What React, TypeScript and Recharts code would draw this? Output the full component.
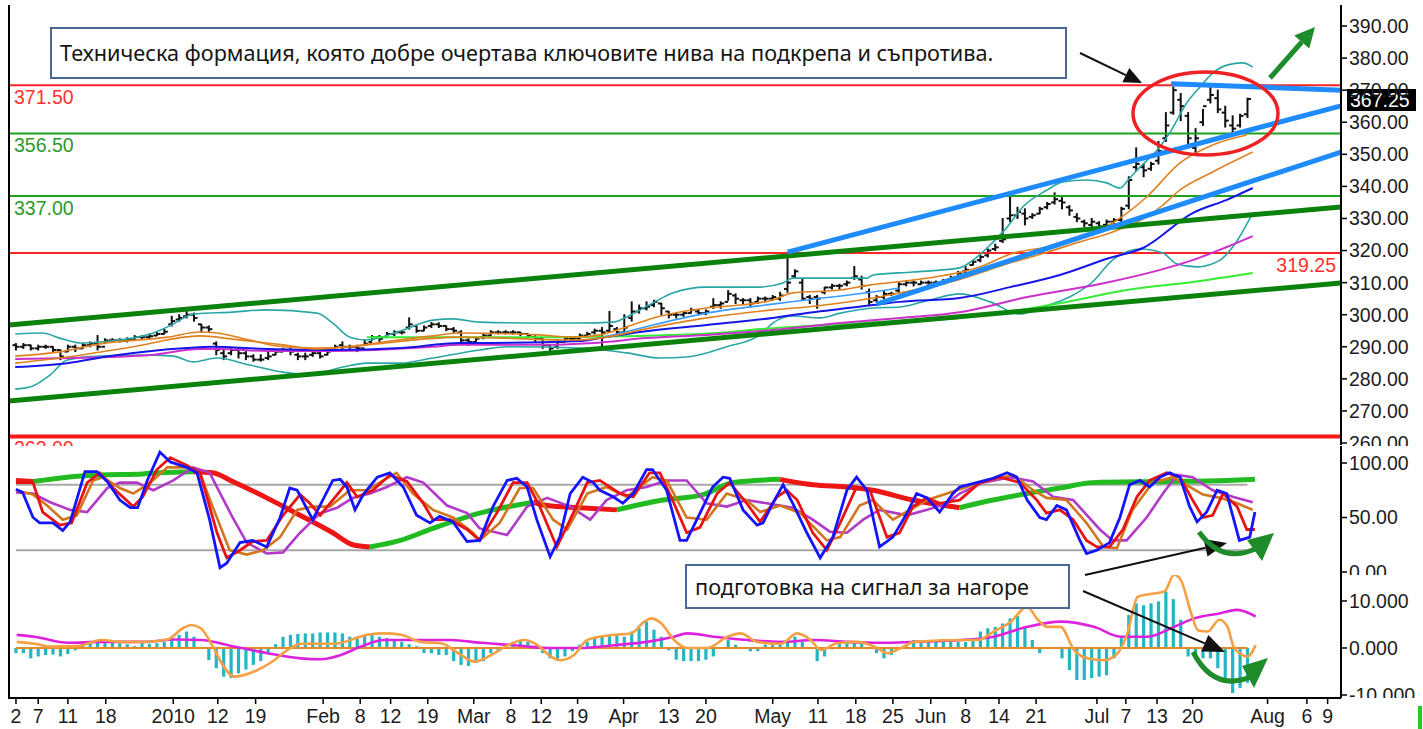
import React from 'react';
import { ComposedChart, Line, Bar, XAxis, YAxis, ReferenceLine, ReferenceDot } from 'recharts';

type Knot = [number, number];

// x is the trading-day number (0 = 2 Dec 2009)
const XMIN = -0.94;
const XMAX = 178.6;
const LAST = 166;

const tickDays = [0, 3, 7, 12.1, 21.2, 27.2, 32.3, 41.4, 46.4, 50.5, 55.5, 61.7, 66.7, 70.8, 75.7, 81.9, 88, 93, 102, 108.1, 113.2, 118.2, 123.3, 128, 132.5, 137.5, 145.7, 149.6, 153.8, 158.6, 168.7, 174, 176.8];
const tickLabels = ['2', '7', '11', '18', '2010', '12', '19', 'Feb', '8', '12', '19', 'Mar', '8', '12', '19', 'Apr', '13', '20', 'May', '11', '18', '25', 'Jun', '8', '14', '21', 'Jul', '7', '13', '20', 'Aug', '6', '9'];

const priceTicks = [260, 270, 280, 290, 300, 310, 320, 330, 340, 350, 360, 370, 380, 390];
const stochTicks = [0, 50, 100];
const macdTicks = [-10, 0, 10];

// daily bars
const opens = [
  290.5, 290, 290.5, 289.5, 290, 290, 289, 288.5, 290, 289.5,
  290.5, 291, 290, 292, 292, 292, 292.2, 293, 293, 293.5,
  294, 297, 298.5, 299.5, 300, 297, 296, 291, 288, 288,
  289, 288, 287, 286, 286.5, 287.5, 288.5, 289, 287.5, 287,
  287.5, 288, 287.5, 289, 290.5, 290, 290, 289.5, 291.5, 293,
  293, 294, 294.5, 296, 296.5, 295, 296.5, 297, 296.5, 295.5,
  294.5, 292, 291.5, 293, 293.5, 294.5, 294.5, 294.5, 294.5, 294,
  293, 292.5, 290.5, 290, 291.5, 292.5, 292.5, 293.5, 294.5, 295,
  295, 295.5, 294.5, 299, 301, 302, 303, 303.5, 301, 300,
  300, 300.5, 301, 300.5, 302.5, 303, 304, 306, 304.5, 304.5,
  304, 305, 305, 305, 308, 312, 310, 305.5, 305.5, 307,
  308.5, 309, 309.5, 311.5, 311, 307, 304.5, 305.5, 306.5, 307.5,
  309.5, 310, 309.5, 310, 310, 310, 311, 311.5, 313.5, 315.5,
  317, 318.5, 320.5, 323, 330, 331, 331.5, 330.5, 331.5, 333.5,
  335, 335.5, 333.5, 330.5, 329, 328, 328.5, 328, 329, 329.5,
  334, 346, 346, 345.5, 348, 355, 363, 367, 362, 352,
  360, 367, 367.5, 363, 359, 359, 362.5,
];
const highs = [
  291, 291, 290.5, 290.5, 290.5, 290, 289, 290.5, 290.5, 291,
  291.5, 293.5, 292.5, 292.5, 292.5, 292.8, 293.5, 293.5, 294, 294.5,
  295.5, 299.5, 300, 301, 300.5, 297, 296.5, 291.5, 289, 289.5,
  289.5, 288.5, 287.5, 287.5, 288.5, 289, 289.5, 289.5, 288, 288,
  288.5, 288.5, 289.5, 290.5, 291.5, 290.5, 290.5, 292, 293.5, 293.5,
  294.5, 295, 295, 299, 296.5, 296.5, 297.5, 297.5, 296.5, 296,
  295, 292.5, 293, 294, 295, 295, 295, 295, 294.5, 294,
  293.5, 292.5, 290.5, 292, 293, 293, 294, 294.5, 295.5, 296,
  301, 296, 300, 304, 303, 304, 304.5, 303.5, 301, 300.5,
  301, 302, 301.5, 301.5, 305, 304, 307.5, 306.5, 305, 305,
  305.5, 305.5, 306, 307, 318, 314, 311, 306, 306, 308.5,
  309.5, 309.5, 310.5, 315, 312, 308, 306, 307.5, 307, 310,
  310.5, 310.5, 310.5, 310.5, 310.5, 311, 312, 313.5, 315, 317,
  318.5, 320.5, 322, 330, 337, 333.5, 333, 331.5, 333.5, 335,
  338, 336.5, 334, 331.5, 329.5, 330, 329, 329.5, 330, 333.5,
  343, 352, 347, 347.5, 354, 363, 371, 369, 363, 358,
  364, 371, 370, 365, 362, 362.5, 367.5,
];
const lows = [
  289, 289.5, 289, 289, 289.5, 288.5, 286, 288.5, 288.5, 289.5,
  290, 289, 291, 291.5, 291.5, 291.5, 292, 292.5, 292.5, 293.5,
  294, 296.5, 298, 299, 298, 294.5, 294.5, 287.5, 286, 287.5,
  286.5, 286, 285.5, 285.5, 286, 287.5, 288.5, 287.5, 286, 286,
  287, 286.5, 287.5, 289, 289, 289.5, 288.5, 290.5, 292, 291.5,
  293, 293.5, 294, 295.5, 294.5, 295, 296, 296, 295, 294.5,
  291, 290.5, 291.5, 292.5, 293.5, 294, 294, 294, 293.5, 293,
  291.5, 289.5, 288.5, 289.5, 291.5, 292, 292.5, 293, 294, 290,
  294.5, 293.5, 294, 298, 300.5, 301.5, 302.5, 300, 299, 299,
  299.5, 300.5, 300, 300, 302, 302, 304.5, 303.5, 303.5, 302.5,
  303.5, 304, 304.5, 304.5, 307, 311.5, 304.5, 303.5, 302, 306.5,
  308, 308, 309, 311, 308, 303, 304, 305, 306, 307,
  309, 309, 309.5, 309.5, 309.5, 309.5, 310.5, 311.5, 313, 315.5,
  316.5, 318, 320, 322.5, 329, 330, 328, 330, 331.5, 333,
  334.5, 333, 331, 329, 327.5, 327.5, 326.5, 327.5, 328.5, 328,
  333, 345, 343, 345, 347, 354, 362.5, 360.5, 353, 350.5,
  359, 366, 363, 358.5, 356, 358.5, 361.5,
];
const closes = [
  290, 290.5, 289.5, 290, 290, 289, 287, 290, 289.5, 290.5,
  291, 290, 292, 292, 292, 292.2, 293, 293, 293.3, 294,
  294.7, 298, 299, 300, 299, 296, 295.5, 289, 287, 289,
  288, 287, 286, 286, 287, 288.5, 289, 288.5, 287, 287,
  288, 287, 288.5, 290, 290, 290, 289.5, 291, 293, 292.5,
  294, 294.5, 294.5, 297, 295, 296, 297, 296.5, 295.5, 295,
  292, 291.5, 292.5, 293.5, 294.5, 294.5, 294.5, 294.5, 294, 293.5,
  292.5, 290.5, 289.5, 291.5, 292.5, 292.5, 293.5, 294, 295, 294.5,
  296.5, 294.5, 296, 301, 302, 302.5, 304, 302, 300, 300,
  300.5, 301.5, 300.5, 301, 303, 303.5, 306.5, 305, 304.5, 303.5,
  305, 305, 305.5, 306, 310, 313.5, 305, 305, 305, 308.5,
  309, 309, 310, 312, 309, 304, 305.5, 306.5, 306.5, 309.5,
  310, 310, 310, 310, 310, 310.5, 311.5, 313, 314, 316.5,
  318, 320, 321, 323.5, 331, 332, 330, 331, 333, 334.5,
  336, 335, 332.5, 330, 328.5, 329, 327.5, 329, 329.5, 333,
  342, 347, 345, 347, 351, 359, 370, 365, 355, 355,
  365, 368.5, 364, 360.5, 358, 362, 367.25,
];

// overlays on the price panel: [day, price]
const bbUpper: Knot[] = [[-0.1, 294.0], [3.6, 294.3], [5.9, 292.7], [8.6, 291.2], [11.3, 291.5], [18.5, 294.3], [21.2, 297.1], [23.9, 300.2], [29.2, 300.8], [33.8, 301.5], [40.6, 300.5], [42.7, 297.4], [45.0, 293.0], [47.3, 292.1], [51.8, 294.9], [56.2, 298.3], [58.9, 298.7], [62.5, 297.7], [70.6, 297.4], [76.0, 297.4], [80.5, 297.7], [82.3, 299.3], [85.8, 303.6], [88.5, 306.8], [93.1, 308.6], [99.9, 308.6], [103.4, 309.9], [104.7, 311.4], [114.7, 311.4], [115.5, 312.4], [120.9, 313.3], [127.2, 314.6], [129.0, 317.0], [131.3, 321.7], [133.6, 327.3], [135.7, 333.6], [139.0, 338.9], [141.1, 341.4], [144.3, 342.0], [147.0, 341.1], [148.8, 339.5], [149.9, 342.0], [151.5, 346.0], [153.8, 351.3], [155.5, 356.6], [157.8, 366.0], [159.6, 371.0], [161.3, 375.3], [163.2, 377.8], [165.4, 378.5], [166.7, 377.2]];
const bbLower: Knot[] = [[-0.1, 276.8], [2.3, 277.8], [4.6, 281.2], [6.9, 285.9], [11.3, 287.1], [18.1, 287.4], [21.2, 287.1], [23.9, 285.3], [27.1, 286.5], [31.5, 284.3], [36.0, 282.1], [38.3, 281.5], [40.6, 281.8], [44.1, 283.7], [47.3, 284.9], [51.8, 284.9], [56.2, 286.5], [62.5, 289.0], [66.2, 290.0], [76.0, 289.6], [82.3, 288.1], [86.8, 286.5], [90.4, 286.8], [95.8, 290.0], [100.3, 293.7], [102.0, 297.4], [104.7, 299.6], [108.4, 299.0], [111.1, 300.5], [115.5, 302.1], [119.1, 302.4], [123.2, 304.6], [127.2, 306.5], [131.3, 304.0], [135.3, 300.2], [138.4, 302.4], [142.0, 305.5], [145.1, 310.2], [147.8, 317.0], [151.5, 320.5], [154.6, 319.2], [156.5, 315.8], [159.2, 314.9], [162.3, 317.0], [164.0, 321.1], [166.7, 331.7]];
const maFast: Knot[] = [[-0.1, 287.1], [5.9, 288.4], [11.3, 290.9], [20.4, 293.0], [24.8, 294.6], [27.1, 294.3], [31.5, 292.1], [36.0, 290.0], [40.6, 289.6], [45.0, 290.0], [49.5, 291.5], [56.2, 293.4], [59.8, 294.3], [70.6, 293.7], [75.1, 293.0], [78.7, 293.7], [82.3, 296.2], [86.4, 299.3], [93.1, 302.1], [97.6, 303.0], [102.0, 304.6], [104.7, 306.8], [111.1, 307.7], [115.1, 309.3], [120.9, 310.8], [129.9, 314.9], [134.4, 319.2], [139.0, 321.1], [142.5, 323.3], [147.8, 328.6], [152.4, 336.7], [156.9, 347.3], [161.3, 352.9], [165.9, 356.0]];
const maMid: Knot[] = [[-0.1, 284.9], [6.9, 286.8], [15.8, 290.0], [24.8, 293.4], [29.2, 292.4], [36.0, 290.6], [40.6, 289.3], [47.3, 290.6], [59.8, 293.0], [75.1, 292.1], [79.6, 293.0], [84.1, 295.2], [93.1, 299.0], [102.0, 301.5], [106.6, 302.4], [115.5, 305.2], [119.1, 306.8], [125.5, 309.9], [134.4, 316.4], [139.0, 319.5], [143.4, 322.7], [147.8, 325.8], [152.4, 330.5], [154.6, 334.2], [156.9, 338.9], [161.3, 344.5], [166.7, 350.7]];
const maBlue: Knot[] = [[-0.1, 283.7], [6.9, 284.9], [12.7, 287.1], [23.0, 289.6], [26.5, 290.0], [33.8, 289.3], [42.7, 289.0], [51.8, 289.6], [59.8, 291.2], [64.3, 291.2], [76.0, 291.8], [78.7, 292.7], [84.1, 294.6], [93.1, 296.8], [102.0, 299.0], [106.6, 300.5], [115.5, 303.0], [119.1, 304.0], [127.2, 305.2], [134.0, 308.6], [140.7, 312.4], [147.4, 317.7], [151.9, 320.8], [158.6, 331.7], [163.2, 335.8], [166.7, 339.5]];
const maMagenta: Knot[] = [[-0.1, 286.2], [12.7, 286.8], [18.1, 287.4], [24.8, 289.3], [27.5, 289.3], [33.8, 288.7], [42.7, 288.7], [56.2, 290.0], [59.8, 290.6], [70.6, 290.6], [77.8, 291.2], [85.0, 292.7], [93.1, 293.7], [102.0, 295.2], [111.1, 297.4], [119.1, 299.0], [127.2, 300.8], [136.3, 305.5], [147.4, 310.2], [154.1, 313.9], [158.6, 317.0], [163.2, 321.1], [166.7, 324.5]];
const maLime: Knot[] = [[47.3, 293.0], [59.8, 293.0], [72.9, 293.0], [92.2, 294.0], [102.0, 295.8], [116.4, 297.7], [127.2, 299.0], [140.7, 303.6], [149.7, 307.7], [158.6, 310.2], [166.7, 313.0]];
const maSky: Knot[] = [[78.7, 292.7], [84.1, 295.8], [93.1, 300.5], [102.0, 303.3], [106.6, 304.6], [115.5, 307.1], [119.1, 308.3]];

const greenChannel: Knot[][] = [[[XMIN, 296.8], [XMAX, 333.6]], [[XMIN, 273.1], [XMAX, 309.9]]];
const blueChannel: Knot[][] = [[[104.0, 319.5], [XMAX, 365.1]], [[116.0, 303.3], [XMAX, 350.7]], [[155.7, 372.0], [XMAX, 370.0]]];
const redLevels = [371.5, 319.25];
const greenLevels = [356.5, 337];
const floorLevel = 262;

// stochastic panel: [day, value]
const stochFast: Knot[] = [[0, 76], [0.9, 73], [2.3, 50], [3.2, 45], [5.0, 45], [6.3, 38], [7.3, 46], [9.3, 92], [10.9, 92], [12.3, 83], [14.0, 66], [15.4, 59], [16.4, 59], [17.7, 84], [19.4, 110], [20.8, 101], [22.1, 98], [23.0, 96], [24.4, 91], [26.1, 48], [27.5, 4], [28.4, 8], [30.2, 27], [31.9, 29], [33.8, 23], [35.6, 50], [36.9, 77], [37.9, 75], [40.0, 48], [42.7, 84], [43.7, 85], [44.6, 78], [45.7, 57], [46.8, 71], [48.7, 87], [50.4, 91], [52.2, 78], [54.0, 52], [55.8, 45], [57.1, 51], [58.9, 46], [60.8, 28], [62.5, 29], [64.3, 60], [66.2, 84], [67.5, 86], [68.9, 78], [70.2, 48], [72.0, 14], [73.3, 32], [74.7, 72], [76.4, 87], [77.8, 82], [78.7, 75], [80.5, 69], [81.8, 63], [83.2, 72], [85.0, 94], [85.8, 94], [87.7, 75], [89.5, 29], [90.4, 29], [92.2, 54], [93.9, 78], [95.3, 87], [96.2, 86], [98.0, 57], [99.9, 43], [100.7, 45], [102.0, 63], [103.4, 80], [104.7, 63], [106.6, 36], [108.4, 13], [110.1, 32], [112.0, 75], [113.3, 87], [114.7, 75], [116.4, 23], [118.2, 32], [120.1, 54], [121.4, 72], [122.8, 68], [124.5, 55], [126.3, 72], [127.2, 78], [129.5, 82], [131.7, 86], [133.6, 91], [134.9, 87], [136.3, 66], [138.0, 50], [138.9, 48], [140.3, 61], [141.6, 57], [143.4, 29], [144.3, 17], [145.7, 20], [147.4, 27], [148.8, 50], [150.1, 80], [151.5, 84], [152.8, 78], [154.2, 87], [155.5, 91], [156.9, 87], [158.2, 60], [159.2, 46], [160.5, 55], [161.9, 75], [163.2, 72], [164.9, 29], [166.3, 32], [167.0, 55]];
const stochRed: Knot[] = [[0, 82], [2.3, 82], [3.6, 55], [5.9, 43], [7.5, 45], [9.6, 82], [11.3, 91], [13.1, 77], [15.8, 60], [17.1, 69], [19.0, 94], [20.8, 105], [23.0, 98], [24.8, 91], [27.1, 36], [28.4, 13], [30.2, 20], [31.9, 28], [33.8, 29], [36.0, 52], [38.3, 71], [39.6, 63], [41.0, 52], [43.3, 71], [44.6, 82], [46.0, 69], [48.1, 75], [50.4, 89], [52.7, 83], [54.9, 63], [56.2, 48], [58.5, 48], [60.8, 39], [62.5, 29], [64.8, 54], [67.0, 82], [68.9, 82], [70.6, 60], [72.9, 23], [74.7, 48], [77.0, 82], [78.7, 84], [81.4, 72], [83.2, 69], [85.4, 91], [86.8, 91], [88.5, 66], [90.4, 36], [92.2, 41], [94.5, 72], [96.2, 82], [98.5, 63], [100.3, 46], [102.6, 69], [103.9, 75], [105.3, 66], [107.4, 36], [109.3, 20], [111.1, 45], [113.3, 78], [115.1, 75], [117.4, 32], [119.1, 36], [120.9, 60], [122.8, 68], [124.5, 63], [127.2, 66], [129.9, 82], [132.6, 87], [135.3, 82], [137.6, 66], [138.9, 54], [140.7, 57], [142.5, 48], [144.3, 29], [145.7, 23], [147.4, 23], [149.2, 39], [151.1, 69], [152.8, 84], [155.1, 91], [156.9, 87], [158.6, 66], [160.0, 50], [161.3, 52], [162.7, 72], [164.6, 60], [165.9, 39], [167.0, 39]];
const stochOrange: Knot[] = [[0, 75], [2.3, 71], [4.2, 61], [6.3, 48], [8.2, 52], [10.4, 84], [11.7, 87], [14.0, 77], [15.8, 72], [18.1, 82], [20.4, 96], [23.0, 96], [24.8, 91], [26.5, 60], [28.8, 20], [31.1, 16], [33.3, 20], [35.6, 32], [37.9, 57], [40.0, 60], [42.3, 60], [45.0, 75], [47.3, 75], [49.5, 84], [51.3, 91], [53.5, 72], [56.2, 57], [58.9, 50], [61.6, 36], [62.5, 29], [65.2, 45], [67.9, 77], [69.7, 77], [72.4, 48], [74.3, 39], [77.0, 72], [79.6, 78], [82.3, 69], [85.8, 87], [87.7, 84], [90.4, 50], [93.1, 48], [95.8, 72], [98.5, 66], [100.3, 55], [103.0, 61], [105.7, 54], [109.3, 29], [111.1, 32], [113.7, 61], [115.5, 66], [118.2, 48], [120.5, 57], [122.8, 66], [125.5, 72], [127.2, 76], [130.9, 84], [134.4, 89], [137.1, 75], [138.9, 68], [141.6, 66], [144.3, 45], [146.6, 23], [148.4, 22], [150.5, 57], [153.2, 82], [155.9, 87], [158.2, 78], [160.0, 71], [162.3, 68], [164.6, 63], [166.7, 57]];
const stochPurple: Knot[] = [[0, 73], [2.3, 72], [4.6, 64], [7.3, 57], [9.6, 55], [12.3, 77], [14.0, 82], [16.3, 82], [18.5, 75], [21.2, 84], [23.9, 96], [26.1, 91], [29.2, 50], [31.1, 27], [33.8, 17], [36.0, 18], [38.3, 36], [41.0, 54], [43.3, 59], [45.4, 68], [47.7, 72], [50.0, 78], [52.7, 87], [54.9, 82], [58.1, 61], [60.8, 54], [62.5, 40], [66.2, 34], [68.9, 60], [71.6, 68], [74.7, 60], [77.4, 48], [79.6, 66], [82.3, 75], [85.0, 78], [87.7, 84], [90.4, 84], [93.1, 63], [95.8, 60], [98.5, 66], [101.2, 63], [104.7, 59], [107.4, 48], [109.7, 37], [112.0, 36], [114.2, 48], [116.4, 57], [120.1, 52], [122.8, 57], [125.5, 63], [127.2, 72], [130.3, 82], [134.0, 87], [137.1, 83], [139.8, 69], [142.5, 66], [146.1, 39], [147.8, 29], [149.7, 29], [152.4, 50], [154.6, 72], [156.5, 89], [158.6, 87], [161.3, 75], [164.0, 69], [166.7, 64]];
const stochSlow: Knot[] = [[0, 84], [2.3, 83], [6.9, 87], [11.3, 89], [17.1, 90], [19.4, 91], [23.9, 92], [26.5, 91], [29.2, 83], [33.8, 68], [38.3, 52], [42.7, 36], [45.4, 25], [47.7, 23], [51.8, 29], [56.2, 40], [62.5, 54], [69.7, 64], [71.6, 61], [76.0, 59], [81.0, 57], [87.2, 66], [92.6, 71], [96.6, 82], [103.0, 85], [107.4, 80], [112.0, 78], [115.5, 75], [120.9, 66], [127.2, 59], [131.7, 66], [136.3, 72], [140.7, 77], [145.1, 82], [154.2, 83], [163.2, 84], [167.0, 85]];
const stochBands = [80, 20];

// MACD panel
const macdHist = [
  -1.1, -1.1, -2.2, -1.8, -1.5, -1.4, -1.8, -1.3, -0.5, 0.6,
  1.0, 1.3, 1.7, 1.3, 1.0, 0.8, 0.4, 1.0, 0.9, 1.0,
  1.3, 2.1, 2.8, 3.5, 2.4, 0.2, -2.6, -4.3, -6.1, -6.4,
  -5.4, -4.6, -3.6, -2.8, -1.1, 0.8, 2.4, 2.8, 3.0, 3.1,
  3.1, 3.3, 3.3, 3.3, 3.1, 2.4, 2.4, 2.6, 2.8, 2.4,
  2.1, 1.8, 1.3, 0.8, 0.4, -1.1, -1.1, -1.5, -1.5, -2.8,
  -3.6, -3.8, -3.2, -2.8, -1.1, -0.8, 0.7, 1.3, 1.7, 1.3,
  0.5, -1.1, -2.2, -2.6, -1.8, -0.7, 0.7, 1.3, 2.1, 2.4,
  2.8, 2.8, 2.4, 3.5, 4.2, 5.6, 3.9, 2.4, -0.5, -2.5,
  -2.8, -2.8, -2.8, -2.5, -1.8, 0, 1.7, 0.7, 0, -0.7,
  -0.7, 0.7, 0.9, 0.9, 1.3, 2.4, 1.3, 0.2, -2.8, -1.8,
  -0.3, 0.9, 1.0, 1.3, 0.9, 0.2, -1.1, -2.2, -1.5, -0.2,
  0.7, 1.7, 1.3, 1.3, 1.3, 1.3, 1.3, 1.3, 1.3, 1.7,
  3.5, 4.2, 4.5, 5.2, 6.3, 6.8, 4.5, 1.7, -1.1, 0,
  0, -2.2, -4.7, -6.8, -6.8, -6.4, -6.1, -5.8, -2.2, 2.1,
  7.0, 9.5, 9.1, 9.5, 9.9, 12.0, 10.4, 6.0, -1.8, -2.5,
  -2.2, -2.2, -4.3, -6.8, -9.6, -8.5, -7.4,
];
const macdLine: Knot[] = [[0.1, 1.3], [2.5, 0.9], [4.7, 0.3], [8.3, 0.4], [11.5, 1.7], [14.2, 1.3], [17.3, 1.3], [20.4, 1.8], [22.5, 4.2], [23.6, 4.9], [24.9, 4.2], [26.3, 1.0], [27.6, -2.9], [29.4, -6.1], [32.1, -5.0], [34.8, -2.6], [36.6, -0.4], [38.4, 0.9], [42.9, 0.9], [47.4, 2.8], [49.6, 3.1], [51.9, 2.8], [54.6, 1.3], [57.3, 1.0], [60.0, -1.5], [61.8, -2.9], [64.5, -1.1], [66.3, 0.6], [68.5, 1.7], [70.3, 0.6], [72.1, -1.8], [73.4, -2.6], [75.2, -1.5], [77.0, 1.7], [80.6, 2.8], [82.9, 3.1], [84.7, 5.6], [85.6, 6.3], [87.0, 5.2], [88.7, 1.7], [90.5, 0], [93.2, 0], [95.9, 2.4], [97.7, 3.1], [99.9, 1.3], [103.1, 0.9], [105.3, 3.1], [107.1, 1.7], [108.5, -0.4], [110.7, 1.0], [113.4, 1.3], [115.7, 0.3], [117.5, -1.1], [119.3, 0], [121.1, 1.3], [127.4, 1.7], [129.6, 1.7], [131.8, 3.5], [134.1, 5.6], [136.3, 8.8], [137.6, 6.3], [139.0, 4.5], [140.8, 4.5], [142.6, -0.4], [144.4, -2.2], [146.7, -2.6], [148.5, -1.1], [149.8, 3.1], [151.2, 10.9], [153.4, 11.6], [154.8, 12.0], [156.1, 15.6], [157.0, 14.5], [158.4, 7.4], [159.3, 3.8], [160.6, 3.5], [162.2, 6.0], [163.3, 4.5], [164.2, 0], [166.0, -1.8], [167.1, 0.6]];
const macdSignal: Knot[] = [[0.1, 2.8], [2.5, 2.4], [7.0, 1.1], [11.5, 1.3], [17.3, 1.3], [21.3, 1.8], [24.9, 1.7], [29.4, 0.3], [33.9, -1.1], [38.4, -2.2], [41.1, -2.4], [43.8, -1.5], [46.5, 0.3], [49.6, 1.7], [54.1, 1.7], [58.6, 1.7], [62.7, 1.1], [67.2, 0.6], [71.7, 0], [76.1, 0], [80.6, 0.6], [85.1, 1.3], [88.7, 2.4], [90.5, 3.1], [94.1, 2.4], [98.6, 1.7], [103.1, 1.3], [107.6, 1.7], [112.1, 1.3], [116.6, 1.1], [121.1, 1.3], [127.4, 1.7], [131.8, 2.4], [136.3, 4.5], [140.8, 5.6], [145.3, 4.5], [148.9, 2.4], [152.5, 2.4], [156.1, 4.5], [158.8, 6.3], [162.4, 7.4], [164.6, 8.1], [167.1, 6.7]];

const bars = closes.map((c, i) => ({ x: i, o: opens[i], h: highs[i], l: lows[i], c, range: [lows[i], highs[i]] }));
const histRows = macdHist.map((hist, i) => ({ x: i, hist }));
const pts = (k: Knot[]) => k.map(([x, v]) => ({ x, v }));

const slowSegs = (() => {
  const segs: { up: boolean; pts: Knot[] }[] = [];
  for (let i = 1; i < stochSlow.length; i++) {
    const up = stochSlow[i][1] >= stochSlow[i - 1][1];
    const last = segs[segs.length - 1];
    if (last && last.up === up) last.pts.push(stochSlow[i]);
    else segs.push({ up, pts: [stochSlow[i - 1], stochSlow[i]] });
  }
  return segs;
})();

const FONT = 'Liberation Sans, Arial, sans-serif';
const axisTick = { fontSize: 19.5, fill: '#1c1c1c', fontFamily: FONT };
const W = 1423;

function OhlcBar(props: any) {
  const { x, y, width, height, payload } = props;
  if (!payload) return null;
  const top = Math.min(y, y + height);
  const span = Math.abs(height);
  const toY = (p: number) => top + ((payload.h - p) / (payload.h - payload.l || 1)) * span;
  const cx = x + width / 2;
  return (
    <g stroke="#111" strokeWidth={2}>
      <line x1={cx} x2={cx} y1={top - 0.5} y2={top + span + 0.5} />
      <line x1={cx - 3.5} x2={cx} y1={toY(payload.o)} y2={toY(payload.o)} />
      <line x1={cx} x2={cx + 3.5} y1={toY(payload.c)} y2={toY(payload.c)} />
    </g>
  );
}

function HistBar(props: any) {
  const { x, y, width, height } = props;
  if (height == null || !isFinite(height)) return null;
  const top = Math.min(y, y + height);
  return <rect x={x + width / 2 - 1.6} y={top} width={3.2} height={Math.abs(height)} fill="#22b6c4" />;
}

function ClippedTick(props: any) {
  const { x, y, payload, fmt, clipBottom } = props;
  const id = `clip-${clipBottom}-${payload.value}`;
  return (
    <g>
      <clipPath id={id}>
        <rect x={x - 10} y={-50} width={120} height={clipBottom + 50} />
      </clipPath>
      <text x={x} y={y} dy={7} textAnchor="start" clipPath={`url(#${id})`} fontSize={19.5} fill="#1c1c1c" fontFamily={FONT}>
        {fmt(payload.value)}
      </text>
    </g>
  );
}

function Arrow({ x1, y1, x2, y2, color, width, head, half }: any) {
  const len = Math.hypot(x2 - x1, y2 - y1);
  const ux = (x2 - x1) / len;
  const uy = (y2 - y1) / len;
  const bx = x2 - ux * head;
  const by = y2 - uy * head;
  return (
    <g>
      <line x1={x1} y1={y1} x2={bx} y2={by} stroke={color} strokeWidth={width} />
      <polygon points={`${x2},${y2} ${bx - uy * half},${by + ux * half} ${bx + uy * half},${by - ux * half}`} fill={color} />
    </g>
  );
}

const levelLabel = (value: number, color: string, position: string) => ({
  value: value.toFixed(2),
  position,
  fill: color,
  fontSize: 19.5,
  fontFamily: FONT,
  offset: 5,
});

const noteStyle: React.CSSProperties = {
  position: 'absolute',
  border: '2px solid #4a6894',
  background: '#fff',
  fontFamily: 'Noto Sans, sans-serif',
  fontSize: 21.7,
  color: '#151515',
  paddingLeft: 8,
  boxSizing: 'content-box',
  whiteSpace: 'nowrap',
};

export default function App() {
  const lastClose = closes[LAST];
  return (
    <div style={{ position: 'absolute', left: 0, top: 0, width: W, height: 729, background: '#fff', overflow: 'hidden' }}>
      {/* price panel */}
      <div style={{ position: 'absolute', left: 0, top: 0 }}>
        <ComposedChart width={W} height={446} data={bars} margin={{ top: 5, right: 0, bottom: 1, left: 9 }}>
          <XAxis dataKey="x" type="number" domain={[XMIN, XMAX]} allowDataOverflow hide />
          <YAxis
            orientation="right"
            width={82}
            domain={[259.38, 396.55]}
            allowDataOverflow
            ticks={priceTicks}
            interval={0}
            tickFormatter={(v: number) => v.toFixed(2)}
            axisLine={{ stroke: '#000', strokeWidth: 2 }}
            tickLine={{ stroke: '#000', strokeWidth: 1.5 }}
            tickSize={6}
            tick={axisTick}
          />
          {redLevels.map((v, i) => (
            <ReferenceLine key={`r${v}`} y={v} stroke="#ff2424" strokeWidth={2}
              label={levelLabel(v, '#ff3030', i === 0 ? 'insideTopLeft' : 'insideTopRight') as any} />
          ))}
          {greenLevels.map((v) => (
            <ReferenceLine key={`g${v}`} y={v} stroke="#1fa01f" strokeWidth={2}
              label={levelLabel(v, '#2a9a2a', 'insideTopLeft') as any} />
          ))}
          <ReferenceLine y={floorLevel} stroke="#ff1a1a" strokeWidth={4} label={levelLabel(floorLevel, '#ff3030', 'insideTopLeft') as any} />

          <Line data={pts(bbUpper)} dataKey="v" type="monotone" stroke="#2aa6a6" strokeWidth={1.6} dot={false} isAnimationActive={false} />
          <Line data={pts(bbLower)} dataKey="v" type="monotone" stroke="#2aa6a6" strokeWidth={1.6} dot={false} isAnimationActive={false} />
          <Line data={pts(maLime)} dataKey="v" type="monotone" stroke="#33ee33" strokeWidth={2} dot={false} isAnimationActive={false} />
          <Line data={pts(maMagenta)} dataKey="v" type="monotone" stroke="#cc30cc" strokeWidth={2} dot={false} isAnimationActive={false} />
          <Line data={pts(maBlue)} dataKey="v" type="monotone" stroke="#1616e8" strokeWidth={2} dot={false} isAnimationActive={false} />
          <Line data={pts(maSky)} dataKey="v" type="monotone" stroke="#3a9cff" strokeWidth={1.6} dot={false} isAnimationActive={false} />
          <Line data={pts(maMid)} dataKey="v" type="monotone" stroke="#e0801e" strokeWidth={1.6} dot={false} isAnimationActive={false} />
          <Line data={pts(maFast)} dataKey="v" type="monotone" stroke="#e0801e" strokeWidth={1.6} dot={false} isAnimationActive={false} />

          {greenChannel.map((seg, i) => (
            <ReferenceLine key={`gc${i}`} ifOverflow="visible" segment={seg.map(([x, y]) => ({ x, y }))} stroke="#0b820b" strokeWidth={5} />
          ))}
          {blueChannel.map((seg, i) => (
            <ReferenceLine key={`bc${i}`} ifOverflow="visible" segment={seg.map(([x, y]) => ({ x, y }))} stroke="#1e8cff" strokeWidth={5} />
          ))}

          <Bar dataKey="range" barSize={7} shape={<OhlcBar />} isAnimationActive={false} />

          <ReferenceDot
            x={XMAX}
            y={lastClose}
            r={0}
            ifOverflow="visible"
            shape={(p: any) => (
              <g>
                <rect x={p.cx + 6} y={p.cy - 10} width={69} height={22} fill="#000" />
                <text x={p.cx + 9} y={p.cy + 8} fill="#fff" fontSize={19.5} fontFamily={FONT}>{lastClose.toFixed(2)}</text>
              </g>
            )}
          />
        </ComposedChart>
      </div>

      {/* stochastic panel */}
      <div style={{ position: 'absolute', left: 0, top: 446 }}>
        <ComposedChart width={W} height={129} margin={{ top: 0, right: 0, bottom: 0, left: 9 }}>
          <XAxis dataKey="x" type="number" domain={[XMIN, XMAX]} allowDataOverflow hide />
          <YAxis
            orientation="right"
            width={82}
            domain={[-2.75, 115.6]}
            allowDataOverflow
            ticks={stochTicks}
            interval={0}
            tickFormatter={(v: number) => v.toFixed(2)}
            axisLine={{ stroke: '#000', strokeWidth: 2 }}
            tickLine={{ stroke: '#000', strokeWidth: 1.5 }}
            tickSize={6}
            tick={axisTick}
          />
          {stochBands.map((v) => (
            <ReferenceLine key={`sb${v}`} ifOverflow="visible" segment={[{ x: 0, y: v }, { x: LAST, y: v }]} stroke="#a9a9a9" strokeWidth={2} />
          ))}
          {slowSegs.map((s, i) => (
            <Line key={`slow${i}`} data={pts(s.pts)} dataKey="v" type="monotone" stroke={s.up ? '#22bb22' : '#ee1515'} strokeWidth={5} dot={false} isAnimationActive={false} />
          ))}
          <Line data={pts(stochPurple)} dataKey="v" type="linear" stroke="#b23ac8" strokeWidth={2.6} dot={false} isAnimationActive={false} />
          <Line data={pts(stochOrange)} dataKey="v" type="linear" stroke="#d2761c" strokeWidth={2.6} dot={false} isAnimationActive={false} />
          <Line data={pts(stochRed)} dataKey="v" type="linear" stroke="#e81414" strokeWidth={2.8} dot={false} isAnimationActive={false} />
          <Line data={pts(stochFast)} dataKey="v" type="linear" stroke="#1414ff" strokeWidth={2.8} dot={false} isAnimationActive={false} />
        </ComposedChart>
      </div>

      {/* MACD panel */}
      <div style={{ position: 'absolute', left: 0, top: 575 }}>
        <ComposedChart width={W} height={154} data={histRows} margin={{ top: 0, right: 0, bottom: 0, left: 9 }}>
          <XAxis
            dataKey="x"
            type="number"
            domain={[XMIN, XMAX]}
            allowDataOverflow
            ticks={tickDays}
            interval={0}
            height={31}
            tickFormatter={(v: number) => tickLabels[tickDays.indexOf(v)]}
            axisLine={{ stroke: '#000', strokeWidth: 2 }}
            tickLine={{ stroke: '#000', strokeWidth: 1.5 }}
            tickSize={6}
            tickMargin={5}
            tick={axisTick}
          />
          <YAxis
            orientation="right"
            width={82}
            domain={[-10.64, 15.53]}
            allowDataOverflow
            ticks={macdTicks}
            interval={0}
            axisLine={{ stroke: '#000', strokeWidth: 2 }}
            tickLine={{ stroke: '#000', strokeWidth: 1.5 }}
            tickSize={6}
            tick={<ClippedTick fmt={(v: number) => v.toFixed(3)} clipBottom={123} />}
          />
          <ReferenceLine ifOverflow="visible" segment={[{ x: 0, y: 0 }, { x: LAST, y: 0 }]} stroke="#e58a2a" strokeWidth={2} />
          <Bar dataKey="hist" barSize={4} shape={<HistBar />} isAnimationActive={false} />
          <Line data={pts(macdSignal)} dataKey="v" type="monotone" stroke="#dd22dd" strokeWidth={2.6} dot={false} isAnimationActive={false} />
          <Line data={pts(macdLine)} dataKey="v" type="monotone" stroke="#f6a043" strokeWidth={2.6} dot={false} isAnimationActive={false} />
        </ComposedChart>
      </div>

      {/* left frame */}
      <div style={{ position: 'absolute', left: 8, top: 5, width: 2, height: 694, background: '#000' }} />

      {/* annotations */}
      <svg width={W} height={729} style={{ position: 'absolute', left: 0, top: 0, pointerEvents: 'none' }}>
        <ellipse cx={1205.5} cy={113.5} rx={72.5} ry={41.5} fill="none" stroke="#ee2222" strokeWidth={3.5} />
        <Arrow x1={1080} y1={53} x2={1142} y2={83} color="#111" width={2} head={18} half={8} />
        <Arrow x1={1270} y1={78} x2={1315} y2={27} color="#1e8c2a" width={5} head={20} half={10} />
        <Arrow x1={1085} y1={575} x2={1227} y2={543} color="#111" width={2} head={22} half={9} />
        <Arrow x1={1083} y1={591} x2={1225} y2={652} color="#111" width={2} head={22} half={9} />
        <path d="M1199,532 Q1222,564 1255,549" fill="none" stroke="#1e8c2a" strokeWidth={5} />
        <polygon points="1247,540 1274,533 1262,561" fill="#1e8c2a" />
        <path d="M1193,652 Q1214,692 1250,677" fill="none" stroke="#1e8c2a" strokeWidth={5} />
        <polygon points="1242,666 1268,658 1254,688" fill="#1e8c2a" />
        <rect x={1418} y={706} width={4} height={23} fill="#22cc22" />
      </svg>

      <div style={{ ...noteStyle, left: 50, top: 27, width: 1005, height: 48, lineHeight: '48px' }}>
        Техническа формация, която добре очертава ключовите нива на подкрепа и съпротива.
      </div>
      <div style={{ ...noteStyle, left: 685, top: 564, width: 373, height: 41, lineHeight: '41px' }}>
        подготовка на сигнал за нагоре
      </div>
    </div>
  );
}
